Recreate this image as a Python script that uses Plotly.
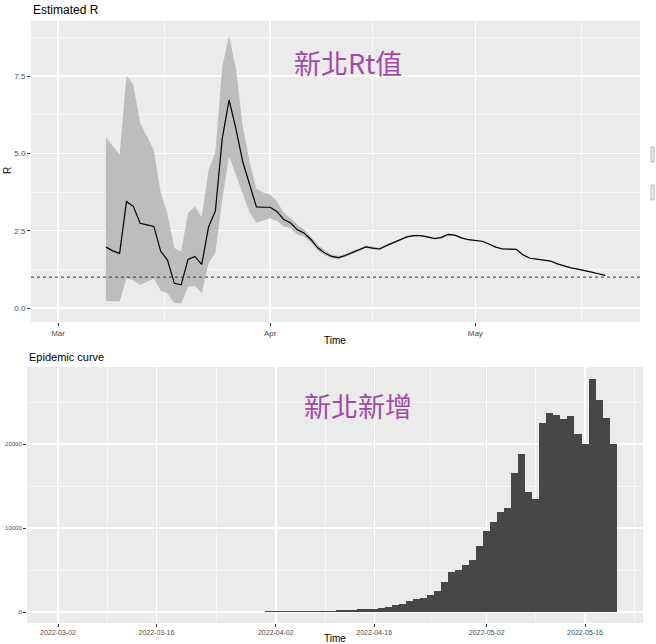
import pandas as pd
import plotly.graph_objects as go

# R estimates (EpiEstim style), daily from 2022-03-08 to 2022-05-20
r_dates = pd.date_range("2022-03-08", "2022-05-20").strftime("%Y-%m-%d").tolist()
r_mean = [
    1.97, 1.85, 1.77, 3.44, 3.29, 2.74, 2.69, 2.64, 1.84, 1.55, 0.80, 0.75,
    1.57, 1.67, 1.41, 2.62, 3.14, 5.47, 6.73, 5.80, 4.73, 3.96, 3.27, 3.26,
    3.26, 3.12, 2.86, 2.75, 2.53, 2.42, 2.21, 1.94, 1.78, 1.67, 1.63, 1.70,
    1.80, 1.88, 1.98, 1.94, 1.91, 2.02, 2.12, 2.21, 2.30, 2.34, 2.34, 2.30,
    2.25, 2.28, 2.38, 2.36, 2.27, 2.21,
    2.19, 2.16, 2.07, 1.97, 1.91, 1.91, 1.90, 1.72, 1.61, 1.58, 1.56, 1.52,
    1.43, 1.36, 1.30, 1.26, 1.22, 1.16, 1.11, 1.06,
]
r_upper = [
    5.52, 5.22, 4.96, 7.52, 7.22, 5.98, 5.55, 5.10, 3.74, 3.04, 1.94, 1.83,
    3.07, 3.28, 2.94, 4.46, 5.03, 7.80, 8.80, 7.75, 5.87, 4.74, 3.86, 3.74,
    3.67, 3.45, 3.07, 2.91, 2.69, 2.53, 2.30, 2.04, 1.86, 1.74, 1.69, 1.75,
    1.85, 1.92, 2.02, 1.98, 1.95, 2.05, 2.15, 2.24, 2.33, 2.37, 2.37, 2.33,
    2.28, 2.31, 2.41, 2.38, 2.29, 2.23,
    2.21, 2.18, 2.09, 1.99, 1.93, 1.92, 1.91, 1.73, 1.62, 1.59, 1.57, 1.53,
    1.44, 1.37, 1.31, 1.27, 1.23, 1.17, 1.12, 1.07,
]
r_lower = [
    0.23, 0.22, 0.21, 0.96, 0.90, 0.75, 0.85, 0.96, 0.57, 0.47, 0.16, 0.15,
    0.69, 0.72, 0.48, 1.45, 1.80, 3.50, 4.90, 4.30, 3.65, 3.10, 2.76, 2.84,
    2.90, 2.82, 2.64, 2.59, 2.37, 2.31, 2.11, 1.85, 1.71, 1.61, 1.58, 1.65,
    1.75, 1.84, 1.94, 1.90, 1.87, 1.99, 2.09, 2.18, 2.27, 2.31, 2.31, 2.27,
    2.22, 2.25, 2.35, 2.34, 2.25, 2.19,
    2.17, 2.14, 2.05, 1.95, 1.89, 1.90, 1.89, 1.71, 1.60, 1.57, 1.55, 1.51,
    1.42, 1.35, 1.29, 1.25, 1.21, 1.15, 1.10, 1.05,
]

# daily new cases, 2022-03-01 to 2022-05-20
incid_dates = pd.date_range("2022-03-01", "2022-05-20").strftime("%Y-%m-%d").tolist()
incid_counts = [
    1, 0, 2, 1, 0, 1, 2, 1, 1, 3, 4, 6, 5, 5, 7, 4, 4, 3, 2, 5,
    6, 5, 9, 14, 20, 24, 22, 20, 18, 20, 40,
    60, 80, 90, 110, 100, 120, 130, 140, 150, 150, 180, 220, 270, 320, 400,
    330, 420, 560, 780, 960, 1270, 1510, 1690, 1990, 2520, 3570, 4770, 5050,
    5640, 6240,
    7880, 9670, 10680, 11940, 12420, 16590, 18810, 14250, 13490, 22500, 23690,
    23450, 23020, 23290, 21190, 20040, 27740, 25200, 23100, 20040,
]

r_ticks = ["2022-03-01", "2022-04-01", "2022-05-01"]
r_tick_text = ["Mar", "Apr", "May"]
incid_ticks = ["2022-03-02", "2022-03-16", "2022-04-02", "2022-04-16", "2022-05-02", "2022-05-16"]

W, H = 656, 644
GRID = "white"
TICKFONT = dict(family="Liberation Sans", color="#4D4D4D")


def px(x):
    return x / W


def py(y):
    return 1 - y / H


fig = go.Figure()

# credible interval band
fig.add_trace(go.Scatter(x=r_dates, y=r_lower, mode="lines", line=dict(width=0),
                         showlegend=False, hoverinfo="skip", xaxis="x", yaxis="y"))
fig.add_trace(go.Scatter(x=r_dates, y=r_upper, mode="lines", line=dict(width=0),
                         fill="tonexty", fillcolor="#BDBDBD",
                         showlegend=False, hoverinfo="skip", xaxis="x", yaxis="y"))
fig.add_trace(go.Scatter(x=r_dates, y=r_mean, mode="lines", line=dict(color="black", width=1.2),
                         showlegend=False, xaxis="x", yaxis="y"))

# epidemic curve
fig.add_trace(go.Bar(x=incid_dates, y=incid_counts, width=86400000,
                     marker=dict(color="#474747", line=dict(width=0)),
                     showlegend=False, xaxis="x2", yaxis="y2"))

fig.update_layout(
    width=W, height=H,
    margin=dict(l=0, r=0, t=0, b=0),
    paper_bgcolor="white",
    plot_bgcolor="#EBEBEB",
    bargap=0,
    font=dict(family="Liberation Sans", color="black"),
    xaxis=dict(
        domain=[px(31), px(640)], anchor="y", type="date",
        range=["2022-02-25 01:00", "2022-05-25 02:00"],
        tickmode="array", tickvals=r_ticks, ticktext=r_tick_text,
        ticks="outside", ticklen=3, tickcolor="#333333", tickwidth=1,
        tickfont=dict(size=8, **TICKFONT),
        showgrid=True, gridcolor=GRID, gridwidth=1.3, zeroline=False, showline=False,
        minor=dict(tickmode="array", tickvals=["2022-03-16 12:00", "2022-04-16", "2022-05-16 12:00"],
                   showgrid=True, gridcolor=GRID, gridwidth=0.6, ticks=""),
    ),
    yaxis=dict(
        domain=[py(322), py(21)], anchor="x",
        range=[-0.45, 9.28],
        tickmode="array", tickvals=[0, 2.5, 5, 7.5], ticktext=["0.0", "2.5", "5.0", "7.5"],
        ticks="outside", ticklen=3, tickcolor="#333333", tickwidth=1,
        tickfont=dict(size=8, **TICKFONT),
        showgrid=True, gridcolor=GRID, gridwidth=1.3, zeroline=False, showline=False,
        minor=dict(tickmode="array", tickvals=[1.25, 3.75, 6.25, 8.75],
                   showgrid=True, gridcolor=GRID, gridwidth=0.6, ticks=""),
    ),
    xaxis2=dict(
        domain=[px(27), px(643)], anchor="y2", type="date",
        range=["2022-02-25 14:00", "2022-05-24 06:00"],
        tickmode="array", tickvals=incid_ticks, ticktext=incid_ticks,
        ticks="outside", ticklen=3, tickcolor="#333333", tickwidth=1,
        tickfont=dict(size=7, **TICKFONT),
        showgrid=True, gridcolor=GRID, gridwidth=1.3, zeroline=False, showline=False,
        minor=dict(tickmode="array",
                   tickvals=["2022-03-09", "2022-03-24 12:00", "2022-04-09", "2022-04-24",
                             "2022-05-09", "2022-05-23"],
                   showgrid=True, gridcolor=GRID, gridwidth=0.6, ticks=""),
    ),
    yaxis2=dict(
        domain=[py(623), py(367)], anchor="x2",
        range=[-1310, 29170],
        tickmode="array", tickvals=[0, 10000, 20000], ticktext=["0", "10000", "20000"],
        ticks="outside", ticklen=3, tickcolor="#333333", tickwidth=1,
        tickfont=dict(size=6, **TICKFONT),
        showgrid=True, gridcolor=GRID, gridwidth=1.3, zeroline=False, showline=False,
        minor=dict(tickmode="array", tickvals=[5000, 15000, 25000],
                   showgrid=True, gridcolor=GRID, gridwidth=0.6, ticks=""),
    ),
)

# R = 1 reference line
fig.add_shape(type="line", xref="x domain", x0=0, x1=1, yref="y", y0=1, y1=1,
              line=dict(color="#333333", width=1, dash="dot"))

# cropped legend keys at the right edge
for top, bottom in [(147, 162), (185, 200)]:
    fig.add_shape(type="rect", xref="paper", yref="paper",
                  x0=px(651), x1=px(654), y0=py(bottom), y1=py(top),
                  line=dict(color="#B8B8B8", width=1), fillcolor="#EDEDED")

annotations = [
    dict(text="Estimated R", x=px(31), y=py(10), xanchor="left", yanchor="middle",
         font=dict(size=12)),
    dict(text="Epidemic curve", x=px(27), y=py(357), xanchor="left", yanchor="middle",
         font=dict(size=11)),
    dict(text="Time", x=px(335), y=py(340), xanchor="center", yanchor="middle",
         font=dict(size=10)),
    dict(text="Time", x=px(335), y=py(638), xanchor="center", yanchor="middle",
         font=dict(size=10)),
    dict(text="R", x=px(8), y=py(171), xanchor="center", yanchor="middle",
         textangle=-90, font=dict(size=10)),
    dict(text="新北Rt值", x=px(348), y=py(63), xanchor="center", yanchor="middle",
         font=dict(size=27, color="#A24AA8", family="Noto Sans CJK TC")),
    dict(text="新北新增", x=px(358), y=py(405), xanchor="center", yanchor="middle",
         font=dict(size=27, color="#A24AA8", family="Noto Sans CJK TC")),
]
for a in annotations:
    fig.add_annotation(xref="paper", yref="paper", showarrow=False, **a)

# static page without modebar; drop the default page margin
fig.write_html("out.html",
               config={"staticPlot": True, "displayModeBar": False},
               post_script="document.body.style.margin='0';")
